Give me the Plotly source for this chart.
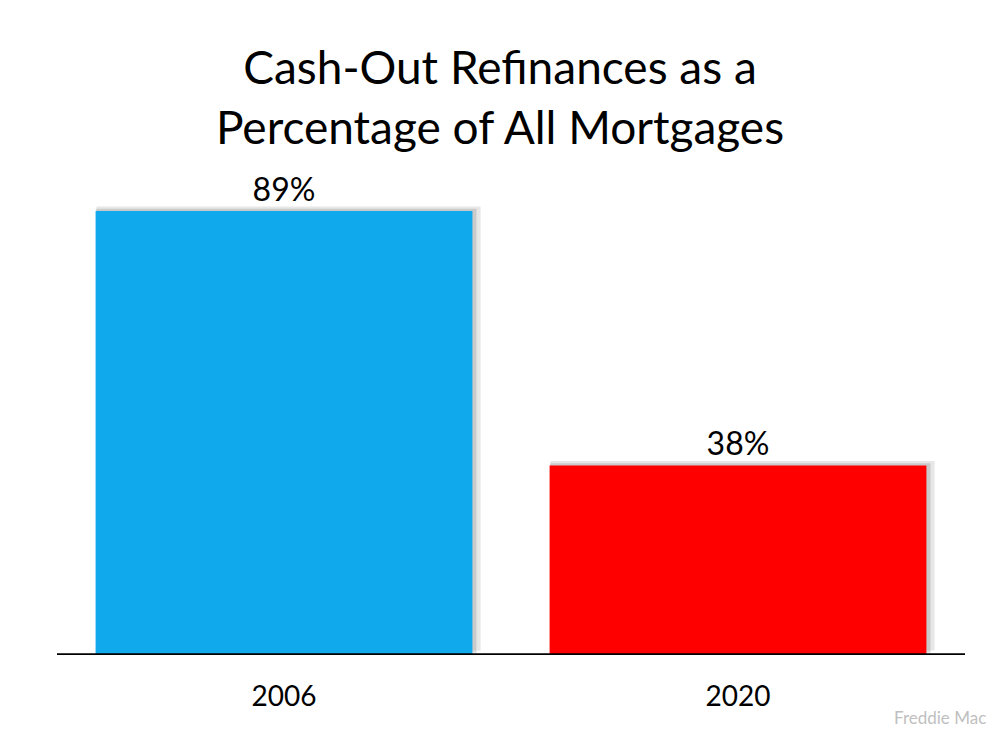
import plotly.graph_objects as go

# Freddie Mac: cash-out refinances as share of all refinances
years = ['2006', '2020']
share_pct = [89, 38]
bar_colors = ['#10A9EB', '#FF0000']
labels = [f'{v}%' for v in share_pct]

fig = go.Figure()

# soft shadow behind each bar (top and right edge), two layers for a fade
fig.add_trace(go.Bar(
    x=years, y=share_pct, base=0.9,
    width=0.846, offset=-0.413,
    marker=dict(color='rgba(160,160,160,0.25)', line=dict(width=0)),
    hoverinfo='skip', showlegend=False,
))
fig.add_trace(go.Bar(
    x=years, y=share_pct, base=0.45,
    width=0.838, offset=-0.414,
    marker=dict(color='rgba(150,150,150,0.35)', line=dict(width=0)),
    hoverinfo='skip', showlegend=False,
))

fig.add_trace(go.Bar(
    x=years, y=share_pct,
    width=0.83, offset=-0.415,
    marker=dict(color=bar_colors, line=dict(width=0)),
    text=labels, textposition='outside',
    textfont=dict(size=32, color='black', family='Lato'),
    cliponaxis=False, showlegend=False,
))

fig.update_layout(
    width=984, height=734,
    barmode='overlay',
    plot_bgcolor='white', paper_bgcolor='white',
    margin=dict(l=49, r=27, t=148, b=87),
    font=dict(family='Lato', color='black'),
    title=dict(
        text='Cash-Out Refinances as a<br>Percentage of All Mortgages',
        x=0.5, xanchor='center', xref='container',
        y=1 - 76 / 734, yanchor='middle', yref='container',
        font=dict(size=46, family='Lato', color='black'),
    ),
    xaxis=dict(
        showgrid=False, zeroline=False,
        showline=False, ticks='',
        ticklabelstandoff=22,
        tickfont=dict(size=28, family='Lato', color='black'),
        range=[-0.5, 1.5],
    ),
    yaxis=dict(
        range=[0, 100], visible=False,
        showgrid=False, zeroline=False,
    ),
)

# baseline under the bars
fig.add_shape(type='line', xref='paper', yref='y',
              x0=0, x1=1, y0=0, y1=0,
              line=dict(color='black', width=3.5))

fig.add_annotation(
    text='Freddie Mac', xref='paper', yref='paper',
    x=1.0253, y=-0.126, xanchor='right', yanchor='middle',
    showarrow=False, font=dict(size=17, color='#BFBFBF', family='Lato'),
)

fig.write_html('out.html')
